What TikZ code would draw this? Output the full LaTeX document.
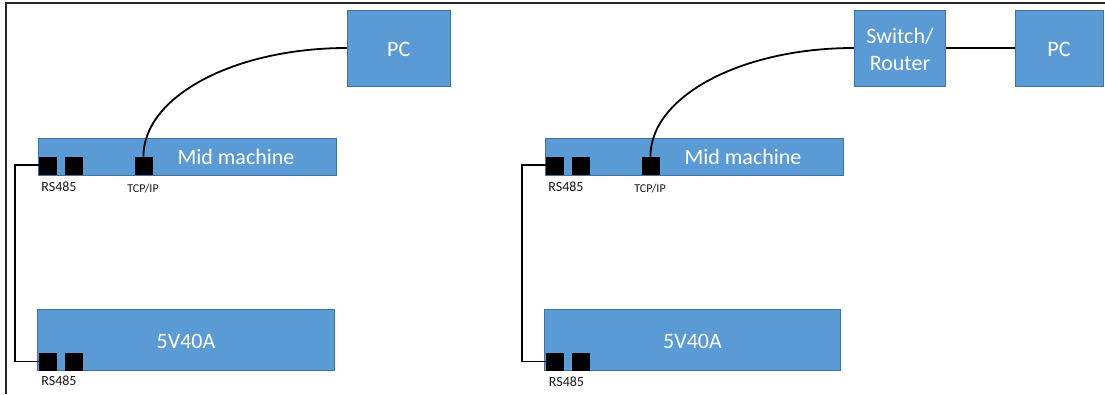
\documentclass[tikz,border=0pt]{standalone}
\usepackage{fontspec}
\setmainfont{Carlito}
\definecolor{boxfill}{HTML}{5B9BD5}
\definecolor{boxline}{HTML}{41719C}
\definecolor{frameline}{HTML}{262626}
\begin{document}
\begin{tikzpicture}[x=1pt,y=-1pt,
  box/.style={draw=boxline,fill=boxfill,line width=1pt,inner sep=0pt,text=white,
    font=\fontsize{22}{27}\selectfont,align=center},
  port/.style={fill=black,draw=black,line width=0.4pt,minimum width=17pt,minimum height=17pt,inner sep=0pt},
  boxtext/.style={text=white,font=\fontsize{22}{27}\selectfont,inner sep=0pt},
  small/.style={text=black!90,font=\fontsize{14}{16}\selectfont,inner sep=0pt},
  tiny/.style={text=black!90,font=\fontsize{12}{14}\selectfont,inner sep=0pt},
  wire/.style={line width=1.8pt,black}]
\useasboundingbox (0,0) rectangle (1105,394);
\fill[white] (0,0) rectangle (1105,394);
% frame
\draw[frameline,line width=1.5pt] (6,394) -- (6,3) -- (1105,3);

% ===== left panel =====
\node[box,minimum width=102.7pt,minimum height=76pt] (pcL) at (398.7,48) {};
\node[boxtext] (pcLt) at (398.7,49) {PC};
\node[box,minimum width=298pt,minimum height=37pt] (midL) at (187,157) {};
\node[boxtext] (midLt) at (236,157) {Mid machine};
\node[port] (mp1L) at (48,165.3) {};
\node[port] (mp2L) at (73.3,165.3) {};
\node[port] (tcpL) at (143.4,165.3) {};
\node[small] (rsL1) at (59,187) {RS485};
\node[tiny] (tcpLt) at (143,188.5) {TCP/IP};
\node[box,minimum width=296.6pt,minimum height=61.7pt] (psuL) at (186,339.9) {};
\node[boxtext] (psuLt) at (186,341) {5V40A};
\node[port] (pp1L) at (47.7,361.5) {};
\node[port] (pp2L) at (73.3,361.5) {};
\node[small] (rsL2) at (59,381) {RS485};
\coordinate (cornerL) at (15,0);
\draw[wire] (mp1L.west) -- (cornerL |- mp1L.west) -- (cornerL |- pp1L.west) -- (pp1L.west);
\draw[wire] (tcpL.north) .. controls (143.4,96) and (235,48) .. (pcL.west);

% ===== right panel =====
\node[box,minimum width=91.5pt,minimum height=76pt] (swR) at (900,48) {};
\node[boxtext,align=center] (swRt) at (900,49) {Switch/\\Router};
\node[box,minimum width=88pt,minimum height=76pt] (pcR) at (1059,48) {};
\node[boxtext] (pcRt) at (1059,49) {PC};
\node[box,minimum width=298pt,minimum height=37pt] (midR) at (694,157) {};
\node[boxtext] (midRt) at (743,157) {Mid machine};
\node[port] (mp1R) at (555,165.3) {};
\node[port] (mp2R) at (580.3,165.3) {};
\node[port] (tcpR) at (650.4,165.3) {};
\node[small] (rsR1) at (566,187) {RS485};
\node[tiny] (tcpRt) at (650,188.5) {TCP/IP};
\node[box,minimum width=296.6pt,minimum height=61.7pt] (psuR) at (692.5,339.9) {};
\node[boxtext] (psuRt) at (692.5,341) {5V40A};
\node[port] (pp1R) at (554.2,361.5) {};
\node[port] (pp2R) at (580.2,361.5) {};
\node[small] (rsR2) at (566.5,381.5) {RS485};
\coordinate (cornerR) at (522,0);
\draw[wire] (mp1R.west) -- (cornerR |- mp1R.west) -- (cornerR |- pp1R.west) -- (pp1R.west);
\draw[wire] (tcpR.north) .. controls (650.4,96) and (742,48) .. (swR.west);
\draw[wire] (swR.east) -- (pcR.west);
\end{tikzpicture}
\end{document}
